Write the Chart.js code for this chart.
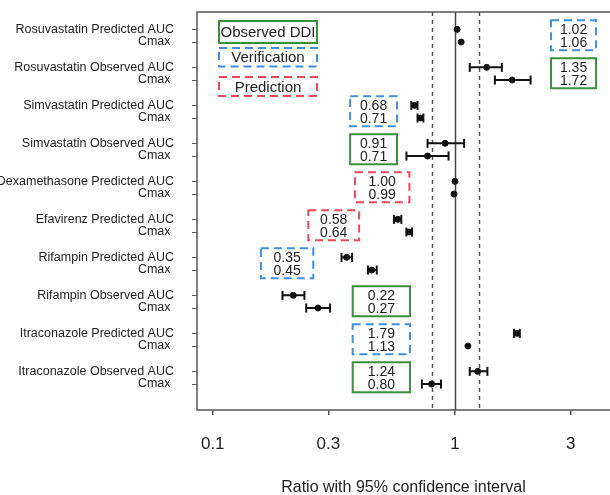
<!DOCTYPE html>
<html>
<head>
<meta charset="utf-8">
<script src="https://cdn.jsdelivr.net/npm/chart.js@4/dist/chart.umd.min.js"></script>
<style>
  html, body { margin: 0; padding: 0; background: #fff; }
  #wrap { width: 610px; height: 495px; }
</style>
</head>
<body>
<div id="wrap"><canvas id="forest"></canvas></div>
<script>
// rows of the forest plot (AUC on first line, Cmax on second)
const studies = [
  'Rosuvastatin Predicted', 'Rosuvastatin Observed',
  'Simvastatin Predicted', 'Simvastatin Observed',
  'Dexamethasone Predicted', 'Efavirenz Predicted',
  'Rifampin Predicted', 'Rifampin Observed',
  'Itraconazole Predicted', 'Itraconazole Observed'
]
const kinds = ['verification', 'observed', 'verification', 'observed', 'prediction',
               'prediction', 'verification', 'observed', 'verification', 'observed']

const aucRatio = [1.02, 1.35, 0.68, 0.91, 1.00, 0.58, 0.357, 0.215, 1.80, 1.24]
const aucLow   = [1.02, 1.15, 0.66, 0.77, 1.00, 0.56, 0.34, 0.194, 1.75, 1.15]
const aucHigh  = [1.02, 1.56, 0.70, 1.09, 1.00, 0.60, 0.376, 0.239, 1.85, 1.36]

const cmaxRatio = [1.06, 1.72, 0.72, 0.77, 0.99, 0.646, 0.453, 0.272, 1.13, 0.80]
const cmaxLow   = [1.06, 1.46, 0.70, 0.63, 0.99, 0.63, 0.437, 0.243, 1.13, 0.73]
const cmaxHigh  = [1.06, 2.05, 0.74, 0.94, 0.99, 0.665, 0.475, 0.305, 1.13, 0.875]

const aucText  = ['1.02', '1.35', '0.68', '0.91', '1.00', '0.58', '0.35', '0.22', '1.79', '1.24']
const cmaxText = ['1.06', '1.72', '0.71', '0.71', '0.99', '0.64', '0.45', '0.27', '1.13', '0.80']

const xTicks = [0.1, 0.3, 1, 3]
const refLines = [0.8, 1, 1.25]
const legendItems = [['observed', 'Observed DDI'], ['verification', 'Verification'], ['prediction', 'Prediction']]

// where each value box sits, in ratio units along x
const boxSpan = [[2.49, 3.82], [2.49, 3.82], [0.369, 0.576], [0.369, 0.576], [0.386, 0.648],
                 [0.248, 0.402], [0.158, 0.26], [0.378, 0.652], [0.378, 0.652], [0.378, 0.652]]

const boxStyle = {
  observed:     { color: '#3a8f3a', dash: [] },
  verification: { color: '#3d8fe0', dash: [8, 5] },
  prediction:   { color: '#e84a55', dash: [8, 5] }
}

const rowY = (i, k) => i * 3 + k

const points = []
const bars = []
studies.forEach((s, i) => {
  points.push({ x: aucRatio[i], y: rowY(i, 0) }, { x: cmaxRatio[i], y: rowY(i, 1) })
  if (aucHigh[i] > aucLow[i]) {
    bars.push({ x: aucLow[i], y: rowY(i, 0) }, { x: aucHigh[i], y: rowY(i, 0) }, { x: null, y: null })
  }
  if (cmaxHigh[i] > cmaxLow[i]) {
    bars.push({ x: cmaxLow[i], y: rowY(i, 1) }, { x: cmaxHigh[i], y: rowY(i, 1) }, { x: null, y: null })
  }
})

function strokeBox(ctx, x, y, w, h, kind) {
  const st = boxStyle[kind]
  ctx.save()
  ctx.strokeStyle = st.color
  ctx.lineWidth = 2
  ctx.setLineDash(st.dash)
  ctx.strokeRect(x, y, w, h)
  ctx.restore()
}

const decorations = {
  id: 'decorations',
  beforeDatasetsDraw(chart) {
    const { ctx, chartArea, scales } = chart
    ctx.save()
    refLines.forEach(v => {
      const px = Math.round(scales.x.getPixelForValue(v)) + 0.5
      ctx.strokeStyle = v === 1 ? '#444' : '#555'
      ctx.lineWidth = 1.5
      ctx.setLineDash(v === 1 ? [] : [4, 4])
      ctx.beginPath()
      ctx.moveTo(px, chartArea.top)
      ctx.lineTo(px, chartArea.bottom)
      ctx.stroke()
    })
    ctx.setLineDash([])
    ctx.strokeStyle = '#555'
    ctx.lineWidth = 1.5
    ctx.strokeRect(chartArea.left, chartArea.top, chartArea.right - chartArea.left + 5, chartArea.bottom - chartArea.top)
    ctx.restore()
  },
  afterDatasetsDraw(chart) {
    const { ctx, chartArea, scales } = chart
    ctx.save()
    ctx.font = '14px "Liberation Sans", Arial, sans-serif'
    ctx.fillStyle = '#222'
    ctx.textAlign = 'center'
    ctx.textBaseline = 'middle'
    studies.forEach((s, i) => {
      const x0 = scales.x.getPixelForValue(boxSpan[i][0])
      const x1 = scales.x.getPixelForValue(boxSpan[i][1])
      const y0 = scales.y.getPixelForValue(rowY(i, 0) - 0.72)
      const y1 = scales.y.getPixelForValue(rowY(i, 1) + 0.65)
      strokeBox(ctx, x0, y0, x1 - x0, y1 - y0, kinds[i])
      const cx = (x0 + x1) / 2
      ctx.fillText(aucText[i], cx, scales.y.getPixelForValue(rowY(i, 0)) + 1)
      ctx.fillText(cmaxText[i], cx, scales.y.getPixelForValue(rowY(i, 1)) + 1)
    })

    // legend boxes in the top left corner
    ctx.font = '15px "Liberation Sans", Arial, sans-serif'
    const lx = chartArea.left + 22
    const tops = [9, 36, 65]
    const heights = [22, 18.5, 19]
    legendItems.forEach(([kind, text], j) => {
      const y = chartArea.top + tops[j]
      strokeBox(ctx, lx, y, 98, heights[j], kind)
      ctx.fillText(text, lx + 49, y + heights[j] / 2 + 1)
    })
    ctx.restore()
  }
}

new Chart(document.getElementById('forest'), {
  type: 'scatter',
  data: {
    datasets: [
      {
        type: 'line',
        data: bars,
        borderColor: '#111',
        borderWidth: 2,
        spanGaps: false,
        pointStyle: 'line',
        rotation: 90,
        pointRadius: 4.5,
        pointBorderWidth: 2,
        pointBorderColor: '#111'
      },
      {
        data: points,
        backgroundColor: '#111',
        borderColor: '#111',
        pointRadius: 3
      }
    ]
  },
  options: {
    responsive: true,
    maintainAspectRatio: false,
    animation: false,
    layout: { autoPadding: false, padding: { top: 12, right: 0, left: 0, bottom: 0 } },
    plugins: {
      legend: { display: false },
      tooltip: { enabled: false }
    },
    scales: {
      x: {
        type: 'logarithmic',
        min: 0.0861,
        max: 4.36,
        afterBuildTicks: scale => { scale.ticks = xTicks.map(v => ({ value: v })) },
        afterFit: scale => {
          scale.height = 85
          scale.paddingLeft = 0
          scale.paddingRight = 0
        },
        border: { display: false },
        grid: { drawOnChartArea: false, drawTicks: true, tickLength: 5, color: '#555', lineWidth: 1.5 },
        ticks: {
          padding: 19,
          color: '#222',
          font: { size: 17, family: '"Liberation Sans", Arial, sans-serif' },
          maxRotation: 0,
          callback: v => String(v)
        },
        title: {
          display: true,
          text: 'Ratio with 95% confidence interval',
          color: '#222',
          font: { size: 16, family: '"Liberation Sans", Arial, sans-serif' },
          padding: { top: 0, bottom: -2 }
        }
      },
      y: {
        type: 'linear',
        reverse: true,
        min: -1.37,
        max: 30.05,
        afterBuildTicks: scale => {
          scale.ticks = studies.flatMap((s, i) => [{ value: rowY(i, 0) }, { value: rowY(i, 1) }])
        },
        afterFit: scale => {
          scale.width = 197
          scale.paddingTop = 0
          scale.paddingBottom = 0
        },
        border: { display: false },
        grid: { drawOnChartArea: false, drawTicks: true, tickLength: 5, color: '#555', lineWidth: 1 },
        ticks: {
          padding: 18,
          color: '#222',
          font: { size: 12.5, family: '"Liberation Sans", Arial, sans-serif' },
          callback: v => {
            const i = Math.floor(v / 3)
            return v % 3 === 0 ? studies[i] + ' AUC' : 'Cmax '
          }
        }
      }
    }
  },
  plugins: [decorations]
})
</script>
</body>
</html>
